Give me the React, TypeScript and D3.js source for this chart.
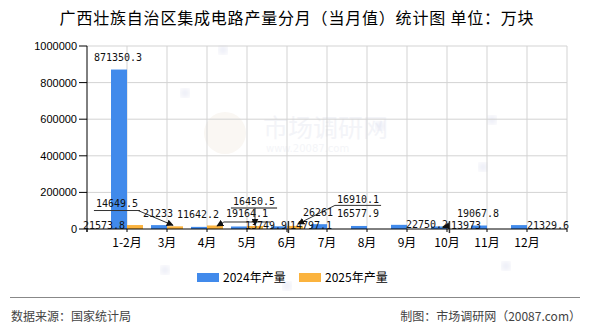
import React from 'react';
import * as d3 from 'd3';

const months = ['1-2月', '3月', '4月', '5月', '6月', '7月', '8月', '9月', '10月', '11月', '12月'];
const output2024 = [871350.3, 21233, 11642.2, 13749.9, 14797.1, 26261, 16577.9, 22750.2, 13973, 19067.8, 21329.6];
const output2025: (number | null)[] = [21573.8, 14649.5, 19164.1, 16450.5, 16910.1, null, null, null, null, null, null];
const yTicks = [0, 200000, 400000, 600000, 800000, 1000000];
const seriesNames = ['2024年产量', '2025年产量'];
const titleText = '广西壮族自治区集成电路产量分月（当月值）统计图 单位：万块';
const sourceText = '数据来源：国家统计局';
const creditText = '制图：市场调研网（20087.com）';

const COLORS = ['#418AEB', '#FBB33E'];

// label placement (offsets relative to the bar's top centre); layout only
type Leader = { kind: 'underline'; from: 'left' | 'right' | 'mid'; ulDy: number; tx: number; ty: number; gray?: boolean }
  | { kind: 'bar'; arrow?: boolean; tx?: number; ty?: number };
type Place = { dx: number; dy: number; leader?: Leader };
const placement: Record<string, Place> = {
  '1-0': { dx: -31, dy: 4 },
  '1-1': { dx: -58, dy: -19.3, leader: { kind: 'underline', from: 'right', ulDy: 3.5, tx: -2, ty: -1 } },
  '1-2': { dx: 32, dy: -8.5, leader: { kind: 'underline', from: 'left', ulDy: 5, tx: 2, ty: 0.5 } },
  '1-3': { dx: -1, dy: -21, leader: { kind: 'underline', from: 'mid', ulDy: 3, tx: 0, ty: -1, gray: true } },
  '1-4': { dx: 63, dy: -23, leader: { kind: 'underline', from: 'left', ulDy: 2.5, tx: 3, ty: -2 } },
  '0-3': { dx: 27, dy: 2.5 },
  '0-4': { dx: 32, dy: 2.7, leader: { kind: 'bar' } },
  '0-7': { dx: 28, dy: 3.2 },
  '0-8': { dx: 27, dy: 2.6, leader: { kind: 'bar', arrow: true, tx: 4, ty: 0.5 } },
  '0-10': { dx: 29, dy: 3.9 },
};

const W = 590, H = 330;
const left = 87, right = 567, top = 46, bottom = 229;
const CHAR_W = 6.02;

export default function App() {
  const y = d3.scaleLinear().domain([0, 1000000]).range([bottom, top]);
  const x = d3.scalePoint<string>().domain(months).range([127, 527]);
  const barW = 16;
  const gridX = [...months.map((m) => x(m) as number), right];
  const tickX = [left, ...gridX];

  const bars: JSX.Element[] = [];
  const labels: JSX.Element[] = [];
  const leaders: JSX.Element[] = [];
  const series = [output2024, output2025];
  series.forEach((vals, s) => {
    vals.forEach((v, i) => {
      if (v == null) return;
      const cx = (x(months[i]) as number) + (s === 0 ? -barW / 2 : barW / 2);
      const yTop = y(v);
      bars.push(
        <rect key={`b${s}-${i}`} x={cx - barW / 2} y={yTop} width={barW} height={bottom - yTop} fill={COLORS[s]} />
      );
      const p = placement[`${s}-${i}`] || { dx: -1, dy: -8.5 };
      const txt = String(v);
      const lx = cx + p.dx;
      const by = yTop + p.dy;
      const tw = txt.length * CHAR_W;
      labels.push(
        <text key={`l${s}-${i}`} x={lx} y={by} textAnchor="middle" fontFamily="'DejaVu Sans Mono', monospace" fontSize={10} fill="#111">{txt}</text>
      );
      const L = p.leader;
      if (L && L.kind === 'underline') {
        const uy = by + L.ulDy;
        const x0 = lx - tw / 2 - 2, x1 = lx + tw / 2 + 2;
        leaders.push(<line key={`u${s}-${i}`} x1={x0} x2={x1} y1={uy} y2={uy} stroke={L.gray ? '#888' : '#333'} strokeWidth={L.gray ? 2 : 1} />);
        const sx = L.from === 'left' ? x0 : L.from === 'right' ? x1 - 2 : cx + L.tx;
        leaders.push(<line key={`d${s}-${i}`} x1={sx} y1={uy} x2={cx + L.tx} y2={yTop + L.ty} stroke="#333" strokeWidth={1} markerEnd="url(#arrow)" />);
      } else if (L && L.kind === 'bar') {
        const bx = lx - tw / 2 - 1.5;
        leaders.push(<line key={`v${s}-${i}`} x1={bx} x2={bx} y1={by - 8} y2={by + 4} stroke="#333" strokeWidth={1.5} />);
        if (L.arrow) {
          leaders.push(<line key={`a${s}-${i}`} x1={bx - 1} y1={by - 3} x2={cx + (L.tx || 0)} y2={yTop + (L.ty || 0)} stroke="#333" strokeWidth={1} markerEnd="url(#arrow)" />);
        }
      }
    });
  });

  return (
    <svg width={W} height={H} style={{ position: 'absolute', left: 0, top: 0, background: '#fff' }}>
      <defs>
        <marker id="arrow" viewBox="0 0 10 10" refX="9" refY="5" markerWidth="7" markerHeight="7" orient="auto" markerUnits="userSpaceOnUse">
          <path d="M0,0 L10,5 L0,10 z" fill="#111" />
        </marker>
        <filter id="blur"><feGaussianBlur stdDeviation="3" /></filter>
      </defs>
      <rect x={0} y={0} width={W} height={H} fill="#fff" />
      {/* watermark */}
      <g>
        <circle cx={225} cy={133} r={21} fill="#faf7f3" />
        <text x={263} y={137} fontFamily="'Noto Sans CJK SC'" fontSize={25} fill="#f3f4f8">市场调研网</text>
        <text x={266} y={152} fontFamily="'DejaVu Sans'" fontSize={10} fill="#f4f5f8">www.20087.com</text>
        {[[185, 93], [223, 50], [492, 120], [483, 167], [380, 126], [165, 270], [506, 266], [287, 286]].map(([a, b], k) => (
          <circle key={k} cx={a} cy={b} r={4} fill="#e2e4f2" filter="url(#blur)" />
        ))}
      </g>
      {/* grid */}
      {yTicks.slice(1).map((t) => (
        <line key={`gy${t}`} x1={left} x2={right} y1={y(t)} y2={y(t)} stroke="#d3d3d3" strokeWidth={1} />
      ))}
      {gridX.map((gx, k) => (
        <line key={`gx${k}`} x1={gx} x2={gx} y1={top} y2={bottom} stroke="#d3d3d3" strokeWidth={1} />
      ))}
      {bars}
      {/* axes */}
      <line x1={left} x2={left} y1={top} y2={bottom + 3} stroke="#000" strokeWidth={1} />
      <line x1={left} x2={right} y1={bottom} y2={bottom} stroke="#000" strokeWidth={1} />
      {yTicks.map((t) => (
        <g key={`yt${t}`}>
          <line x1={left - 8} x2={left} y1={y(t)} y2={y(t)} stroke="#000" />
          <text x={left - 10} y={y(t) + 4} textAnchor="end" fontFamily="'Liberation Sans', Arial" fontSize={11} fill="#000">{t}</text>
        </g>
      ))}
      {tickX.map((tx, k) => (
        <line key={`xt${k}`} x1={tx} x2={tx} y1={bottom} y2={bottom + 3} stroke="#000" />
      ))}
      {months.map((m) => (
        <text key={`xl${m}`} x={x(m) as number} y={247} textAnchor="middle" fontFamily="'Noto Sans CJK SC'" fontSize={12} fill="#000">{m}</text>
      ))}
      {leaders}
      {labels}
      {/* title */}
      <text x={297} y={24} textAnchor="middle" fontFamily="'Noto Sans CJK SC'" fontSize={16} letterSpacing={0.8} fill="#000">{titleText}</text>
      {/* legend */}
      {seriesNames.map((n, k) => (
        <g key={n} transform={`translate(${197 + k * 102},273)`}>
          <rect x={0} y={0} width={22} height={9} fill={COLORS[k]} />
          <text x={26} y={9} fontFamily="'Noto Sans CJK SC'" fontSize={12} fill="#000">{n}</text>
        </g>
      ))}
      {/* footer */}
      <line x1={10} x2={580} y1={297.5} y2={297.5} stroke="#888" strokeWidth={1} />
      <text x={11} y={321} fontFamily="'Noto Sans CJK SC'" fontSize={12} fill="#444">{sourceText}</text>
      <text x={581} y={321} textAnchor="end" fontFamily="'Noto Sans CJK SC'" fontSize={12} fill="#444">{creditText}</text>
    </svg>
  );
}
